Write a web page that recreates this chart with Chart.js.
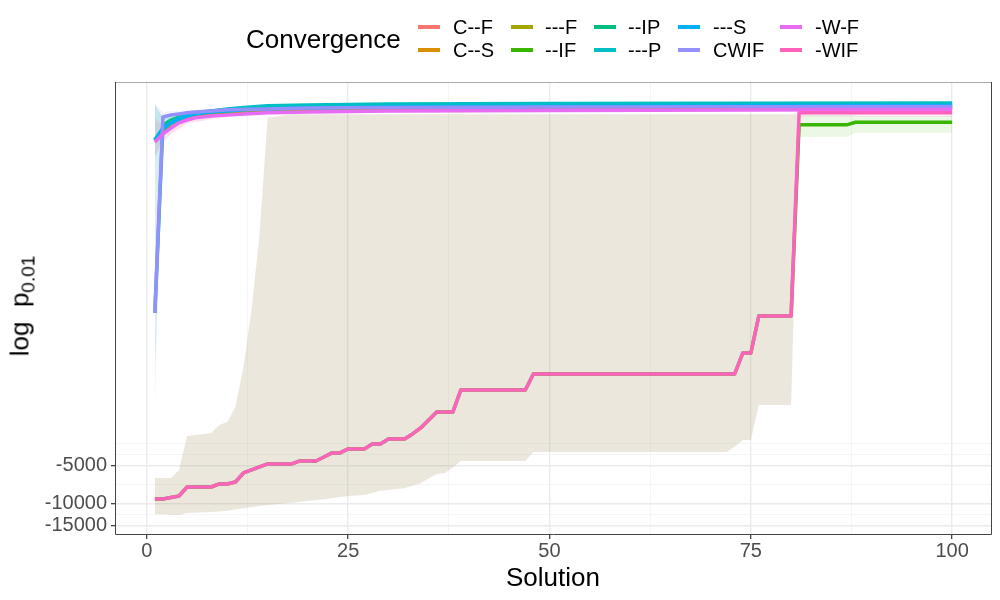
<!DOCTYPE html>
<html>
<head>
<meta charset="utf-8">
<script src="https://cdn.jsdelivr.net/npm/chart.js@4.4.1/dist/chart.umd.min.js"></script>
<style>
body { margin: 0; background: #fff; }
#wrap { position: relative; width: 1000px; height: 600px; font-family: 'Liberation Sans', Arial, sans-serif; color: #000; }
#chart { position: absolute; left: 0; top: 0; }
.txt { position: absolute; white-space: nowrap; line-height: 1; }
.key { position: absolute; width: 22px; height: 3.5px; }
#ytitle sub { font-size: 19px; vertical-align: -6px; }
</style>
</head>
<body>
<div id="wrap">
  <canvas id="chart" width="1000" height="600"></canvas>
  <div id="legend"></div>
  <div class="txt" id="xtitle" style="font-size:26px; left:553px; top:564px; transform:translateX(-50%);">Solution</div>
  <div class="txt" id="ytitle" style="font-size:26px; left:22px; top:306px; transform:translate(-50%,-50%) rotate(-90deg);">log&nbsp;&nbsp;p<sub>0.01</sub></div>
</div>
<script>
const SERIES = ['C--F', 'C--S', '---F', '--IF', '--IP', '---P', '---S', 'CWIF', '-W-F', '-WIF'];
const COLORS = ['#F8766D', '#D89000', '#A3A500', '#39B600', '#00BF7D', '#00BFC4', '#00B0F6', '#9590FF', '#E76BF3', '#FF62BC'];

const X_LIMITS = [-3.95, 104.95];
const Y_LIMITS = [-17870, -4.19];
const X_BREAKS = [0, 25, 50, 75, 100];
const Y_BREAKS = [-15000, -10000, -5000];

// runs that converge right away
const TOP_X = [1, 2, 3, 4, 5, 6, 8, 10, 12, 15, 20, 30, 50, 100];
const CF   = [-12.4, -10.9, -9.6, -8.8, -8.3, -8.0, -7.7, -7.4, -7.3, -7.15, -7.0, -6.9, -6.83, -6.76];
const CS   = [-12.2, -10.5, -9.3, -8.6, -8.1, -7.85, -7.56, -7.3, -7.15, -7.0, -6.9, -6.83, -6.76, -6.76];
const F    = [-12.2, -10.35, -9.1, -8.45, -8.0, -7.7, -7.4, -7.3, -7.15, -7.0, -6.9, -6.83, -6.76, -6.7];
const IP   = [-297, -9.3, -8.45, -8.0, -7.7, -7.5, -7.2, -7.0, -6.8, -6.64, -6.52, -6.4, -6.35, -6.29];
const P    = [-12.2, -9.8, -8.8, -8.1, -7.7, -7.4, -7.15, -6.9, -6.7, -6.5, -6.4, -6.3, -6.23, -6.17];
const S    = [-12.2, -10.0, -8.9, -8.3, -7.85, -7.56, -7.3, -7.15, -7.0, -6.9, -6.76, -6.64, -6.58, -6.46];
const CWIF = [-297, -8.0, -7.7, -7.56, -7.4, -7.3, -7.15, -7.0, -6.95, -6.9, -6.76, -6.7, -6.64, -6.58];
const WF   = [-12.7, -10.9, -9.8, -8.9, -8.45, -8.1, -7.85, -7.7, -7.56, -7.4, -7.3, -7.15, -7.1, -6.95];

// the slow -WIF run (--IF lies under it until solution 80)
const WIF_X = [1, 2, 3, 4, 5, 8, 9, 10, 11, 12, 13, 14, 15, 18, 19, 21, 22, 23, 24, 25, 27, 28, 29, 30, 32, 33, 34, 35, 36, 38, 39, 47, 48, 73, 74, 75, 76, 80, 81, 100];
const WIF = [-9190, -9190, -8940, -8700, -7370, -7370, -6970, -6970, -6720, -5690, -5380, -5090, -4820, -4820, -4560, -4560, -4235, -3930, -3930, -3650, -3650, -3330, -3330, -3040, -3040, -2770, -2480, -2140, -1850, -1850, -1230, -1230, -916, -916, -622, -622, -314, -314, -7.4, -7.4];
const IF_X = [1, 2, 3, 4, 5, 8, 9, 10, 11, 12, 13, 14, 15, 18, 19, 21, 22, 23, 24, 25, 27, 28, 29, 30, 32, 33, 34, 35, 36, 38, 39, 47, 48, 73, 74, 75, 76, 80, 81, 87, 88, 100];
const IF = [-9190, -9190, -8940, -8700, -7370, -7370, -6970, -6970, -6720, -5690, -5380, -5090, -4820, -4820, -4560, -4560, -4235, -3930, -3930, -3650, -3650, -3330, -3330, -3040, -3040, -2770, -2480, -2140, -1850, -1850, -1230, -1230, -916, -916, -622, -622, -314, -314, -9.2, -9.2, -8.8, -8.8];

// ribbons
const WIFR_X = [1, 3, 4, 5, 8, 9, 10, 11, 12, 13, 14, 15, 18, 22, 25, 27, 29, 32, 34, 36, 37, 38, 39, 47, 48, 72, 73, 74, 75, 76, 80, 81, 100];
const WIF_HI = [-6240, -6240, -5380, -2875, -2720, -2345, -2220, -1680, -805, -281, -70, -8.1, -7.6, -7.6, -7.6, -7.6, -7.6, -7.6, -7.6, -7.6, -7.6, -7.6, -7.6, -7.6, -7.6, -7.6, -7.6, -7.6, -7.6, -7.6, -7.6, -7.0, -7.0];
const WIF_LO = [-12120, -12300, -12350, -11900, -11700, -11600, -11400, -11150, -10900, -10700, -10480, -10270, -9840, -9250, -8700, -8540, -7890, -7540, -6880, -5800, -5700, -5150, -4560, -4560, -3860, -3860, -3500, -3100, -3100, -1620, -1620, -8.0, -8.0];
const IFR_X = [1, 3, 4, 5, 8, 9, 10, 11, 12, 13, 14, 15, 18, 22, 25, 27, 29, 32, 34, 36, 37, 38, 39, 47, 48, 72, 73, 74, 75, 76, 80, 81, 87, 88, 100];
const IF_HI = [-6240, -6240, -5380, -2875, -2720, -2345, -2220, -1680, -805, -281, -70, -8.1, -7.6, -7.6, -7.6, -7.6, -7.6, -7.6, -7.6, -7.6, -7.6, -7.6, -7.6, -7.6, -7.6, -7.6, -7.6, -7.6, -7.6, -7.6, -7.6, -7.7, -7.7, -7.85, -7.85];
const IF_LO = [-12120, -12300, -12350, -11900, -11700, -11600, -11400, -11150, -10900, -10700, -10480, -10270, -9840, -9250, -8700, -8540, -7890, -7540, -6880, -5800, -5700, -5150, -4560, -4560, -3860, -3860, -3500, -3100, -3100, -1620, -1620, -11.55, -11.5, -10.7, -10.7];

const TOPR_X = [1, 2, 3, 5, 10, 20, 50, 100];
const P_HI = [-6.2, -8.3, -7.8, -7.2, -6.7, -6.3, -6.1, -6.05];
const P_LO = [-17, -11.5, -9.8, -8.2, -7.1, -6.5, -6.35, -6.3];
const IP_HI = [-6.4, -8.0, -7.6, -7.2, -6.8, -6.4, -6.25, -6.2];
const IP_LO = [-900, -11, -9.3, -8.2, -7.2, -6.7, -6.45, -6.4];
const CWIF_HI = [-6.2, -7.3, -7.2, -7.1, -6.8, -6.6, -6.5, -6.45];
const CWIF_LO = [-1880, -9.5, -8.4, -7.9, -7.3, -7.0, -6.8, -6.7];
const CF_HI = [-8, -9.2, -8.6, -7.7, -7.1, -6.8, -6.65, -6.6];
const CF_LO = [-17, -13, -11, -9.0, -7.8, -7.2, -7.0, -6.9];
const WF_HI = [-8.5, -9.5, -9, -8, -7.4, -7.1, -6.95, -6.8];
const WF_LO = [-16, -12.5, -11, -9.0, -8.0, -7.5, -7.25, -7.1];

const LINES = [
    ['C--F', TOP_X, CF], ['C--S', TOP_X, CS], ['---F', TOP_X, F], ['--IF', IF_X, IF],
    ['--IP', TOP_X, IP], ['---P', TOP_X, P], ['---S', TOP_X, S], ['CWIF', TOP_X, CWIF],
    ['-W-F', TOP_X, WF], ['-WIF', WIF_X, WIF]
]
// name, x, upper, lower, fill opacity
const RIBBONS = [
    ['C--F', TOPR_X, CF_HI, CF_LO, 0.11], ['--IF', IFR_X, IF_HI, IF_LO, 0.1], ['--IP', TOPR_X, IP_HI, IP_LO, 0.11],
    ['---P', TOPR_X, P_HI, P_LO, 0.11], ['CWIF', TOPR_X, CWIF_HI, CWIF_LO, 0.11], ['-W-F', TOPR_X, WF_HI, WF_LO, 0.11],
    ['-WIF', WIFR_X, WIF_HI, WIF_LO, 0.115]
]

// y axis is -log10(-y)
const tr = v => -Math.log10(-v)

function colorOf(name) {
    return COLORS[SERIES.indexOf(name)]
}

function alpha(hex, a) {
    const n = parseInt(hex.slice(1), 16)
    return 'rgba(' + (n >> 16) + ',' + ((n >> 8) & 255) + ',' + (n & 255) + ',' + a + ')'
}

function points(xs, ys) {
    return xs.map((x, i) => ({x: x, y: tr(ys[i])}))
}

const datasets = []
RIBBONS.forEach(([name, xs, hi, lo, a]) => {
    datasets.push({
        data: points(xs, hi), borderWidth: 0, borderColor: 'rgba(0,0,0,0)',
        backgroundColor: alpha(colorOf(name), a), fill: '+1', pointRadius: 0, order: 50
    })
    datasets.push({
        data: points(xs, lo), borderWidth: 0, borderColor: 'rgba(0,0,0,0)',
        fill: false, pointRadius: 0, order: 50
    })
})
LINES.forEach(([name, xs, ys], i) => {
    datasets.push({
        label: name, data: points(xs, ys), borderColor: colorOf(name), borderWidth: 3.5,
        fill: false, pointRadius: 0, borderJoinStyle: 'round', order: 20 - i
    })
})

// ggplot style breaks: majors plus midpoints in transformed space
function yTicks() {
    const sorted = Y_BREAKS.slice().sort((a, c) => a - c)
    const b = sorted.map(tr)
    const step = b[1] - b[0]
    const ext = [b[0] - step].concat(b, [b[b.length - 1] + step])
    const out = b.map((t, i) => ({value: t, lab: String(sorted[i])}))
    ext.forEach((t, i) => {
        if (i > 0) out.push({value: (t + ext[i - 1]) / 2, lab: ''})
    })
    out.push({value: ext[0], lab: ''}, {value: ext[ext.length - 1], lab: ''})
    const lo = tr(Y_LIMITS[0]), hi = tr(Y_LIMITS[1])
    return out.filter(t => t.value >= lo && t.value <= hi).sort((a, c) => a.value - c.value)
}

function xTicks() {
    const out = X_BREAKS.map(v => ({value: v, lab: String(v)}))
    for (let i = 1; i < X_BREAKS.length; i++) {
        out.push({value: (X_BREAKS[i] + X_BREAKS[i - 1]) / 2, lab: ''})
    }
    return out.sort((a, c) => a.value - c.value)
}

const gridStyle = {
    color: ctx => ctx.tick && ctx.tick.lab ? '#EBEBEB' : '#F2F2F2',
    lineWidth: ctx => ctx.tick && ctx.tick.lab ? 1.4 : 0.8,
    tickColor: ctx => ctx.tick && ctx.tick.lab ? '#333333' : 'rgba(0,0,0,0)',
    tickLength: 4,
    tickWidth: 1.2,
}

const panelBorder = {
    id: 'panelBorder',
    afterDraw(chart) {
        const {ctx, chartArea: a} = chart
        ctx.save()
        ctx.lineWidth = 1
        ctx.strokeStyle = '#AAAAAA'
        ctx.beginPath(); ctx.moveTo(a.left, a.top + 0.5); ctx.lineTo(a.right, a.top + 0.5); ctx.stroke()
        ctx.strokeStyle = '#444444'
        ctx.beginPath()
        ctx.moveTo(a.left + 0.5, a.top); ctx.lineTo(a.left + 0.5, a.bottom - 0.5)
        ctx.lineTo(a.right - 0.5, a.bottom - 0.5); ctx.lineTo(a.right - 0.5, a.top)
        ctx.stroke()
        ctx.restore()
    }
}

Chart.defaults.font.family = "'Liberation Sans', Arial, sans-serif"

new Chart(document.getElementById('chart'), {
    type: 'line',
    data: {datasets: datasets},
    options: {
        responsive: false,
        animation: false,
        layout: {padding: {top: 82, right: 8, left: 0, bottom: 0}},
        plugins: {
            legend: {display: false},
            tooltip: {enabled: false},
            filler: {drawTime: 'beforeDatasetsDraw'},
        },
        elements: {line: {tension: 0}, point: {radius: 0}},
        scales: {
            x: {
                type: 'linear', min: X_LIMITS[0], max: X_LIMITS[1],
                afterBuildTicks: s => { s.ticks = xTicks() },
                afterFit: s => { s.height = 65 },
                ticks: {
                    autoSkip: false, maxRotation: 0, padding: 0, color: '#4D4D4D', font: {size: 20},
                    callback: (v, i, ticks) => ticks[i].lab
                },
                grid: gridStyle,
                border: {display: false},
            },
            y: {
                type: 'linear', min: tr(Y_LIMITS[0]), max: tr(Y_LIMITS[1]),
                afterBuildTicks: s => { s.ticks = yTicks() },
                afterFit: s => { s.width = 115 },
                ticks: {
                    autoSkip: false, padding: 4, color: '#4D4D4D', font: {size: 20},
                    callback: (v, i, ticks) => ticks[i].lab
                },
                grid: gridStyle,
                border: {display: false},
            }
        }
    },
    plugins: [panelBorder]
})

// legend, ggplot style: title on the left, two rows filled by column
const LEG_KEY_X = [418, 511, 594, 678, 780]
const LEG_TEXT_X = [453, 545, 628, 713, 815]
const LEG_ROW_Y = [27, 50]
const legend = document.getElementById('legend')
let html = '<div class="txt" style="font-size:26px; left:246px; top:' + (39 - 12.7) + 'px;">Convergence</div>'
SERIES.forEach((name, i) => {
    const col = Math.floor(i / 2), row = i % 2
    const y = LEG_ROW_Y[row]
    html += '<div class="key" style="left:' + LEG_KEY_X[col] + 'px; top:' + (y - 1.75) + 'px; background:' + COLORS[i] + ';"></div>'
    html += '<div class="txt" style="font-size:20px; left:' + LEG_TEXT_X[col] + 'px; top:' + (y - 9.8) + 'px;">' + name + '</div>'
})
legend.innerHTML = html
</script>
</body>
</html>
